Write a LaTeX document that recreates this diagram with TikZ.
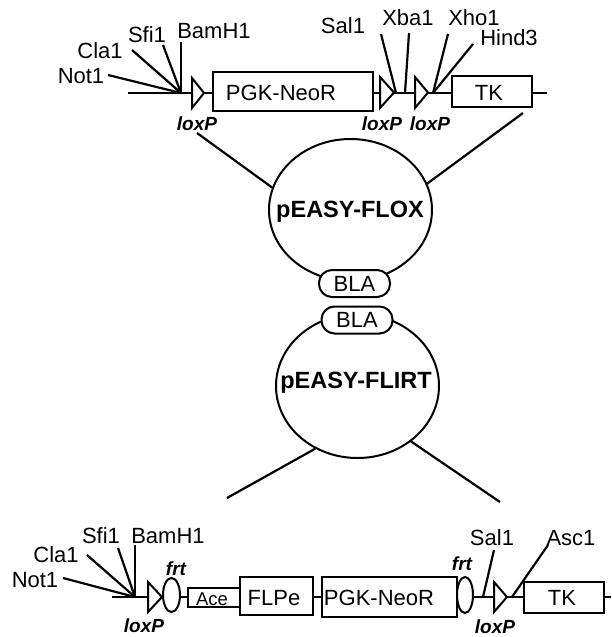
\documentclass[tikz,border=0pt]{standalone}
\usepackage{fontspec}
\setmainfont{Liberation Sans}
\usetikzlibrary{shapes.geometric}
\begin{document}
\begin{tikzpicture}[x=1pt,y=-1pt,
  wire/.style={line width=2.2pt},
  lbl/.style={font=\fontsize{22}{22}\selectfont,inner sep=0pt,anchor=base},
  small/.style={font=\fontsize{18.5}{18.5}\selectfont,inner sep=0pt,anchor=base},
  title/.style={font=\fontsize{23.5}{23.5}\selectfont\bfseries,inner sep=0pt,anchor=base},
  site/.style={font=\fontsize{19}{19}\selectfont\bfseries\itshape,inner sep=0pt,anchor=base},
  box/.style={draw,fill=white,line width=2pt,inner sep=0pt,rectangle},
  tri/.style={draw,fill=white,line width=2pt,line join=miter},
  ell/.style={draw,ellipse,line width=2pt,inner sep=0pt},
  frt/.style={draw,fill=white,ellipse,line width=2pt,inner sep=0pt},
  bla/.style={draw,fill=white,line width=2pt,rounded corners=13pt,inner sep=0pt,
    minimum width=71pt,minimum height=27pt,font=\fontsize{22}{22}\selectfont}
]
\useasboundingbox (0,0) rectangle (611,637);

% ---------------- top construct ----------------
\coordinate (b1s) at (128,93);
\coordinate (b1e) at (547,93);
\coordinate (j1) at (181,93);
\coordinate (j2) at (396,93);
\coordinate (j3) at (405,93);
\coordinate (j4) at (433,93);
\draw[wire] (b1s) -- (b1e);

\node[box,minimum width=160pt,minimum height=39pt] (pgk1) at (293,91.5) {};
\node[lbl] (pgk1t) at (281,100) {PGK-NeoR};
\node[box,minimum width=80pt,minimum height=31pt] (tk1) at (492,91.5) {};
\node[lbl] (tk1t) at (489,100) {TK};

\coordinate (t1a) at (192,78); \coordinate (t1b) at (192,108); \coordinate (t1c) at (204,93);
\draw[tri] (t1a) -- (t1c) -- (t1b) -- cycle;
\coordinate (t2a) at (380,77); \coordinate (t2b) at (380,108); \coordinate (t2c) at (394,92.5);
\draw[tri] (t2a) -- (t2c) -- (t2b) -- cycle;
\coordinate (t3a) at (415,77); \coordinate (t3b) at (415,108); \coordinate (t3c) at (428,92.5);
\draw[tri] (t3a) -- (t3c) -- (t3b) -- cycle;

\node[lbl] (not1) at (81,83) {Not1};
\node[lbl] (cla1) at (100,58) {Cla1};
\node[lbl] (sfi1) at (147,42) {Sfi1};
\node[lbl] (bam1) at (214,38) {BamH1};
\node[lbl] (sal1) at (343,33) {Sal1};
\node[lbl] (xba1) at (408,25) {Xba1};
\node[lbl] (xho1) at (474,25) {Xho1};
\node[lbl] (hin1) at (509,45) {Hind3};

\coordinate (not1e) at (108,75);
\coordinate (cla1e) at (132,50);
\coordinate (sfi1e) at (163,45);
\coordinate (bam1e) at (181,42);
\coordinate (sal1e) at (381,34);
\coordinate (xba1e) at (409,33);
\coordinate (xho1e) at (448,34);
\coordinate (hin1e) at (473,44);
\draw[wire] (not1e) -- (j1);
\draw[wire] (cla1e) -- (j1);
\draw[wire] (sfi1e) -- (j1);
\draw[wire] (bam1e) -- (j1);
\draw[wire] (sal1e) -- (j2);
\draw[wire] (xba1e) -- (j3);
\draw[wire] (xho1e) -- (j4);
\draw[wire] (hin1e) -- (j4);

\node[site] (lox1) at (197,130) {loxP};
\node[site] (lox2) at (382,130) {loxP};
\node[site] (lox3) at (430,130) {loxP};

% ---------------- plasmids ----------------
\node[ell,minimum width=163pt,minimum height=142pt] (flox) at (350.5,210) {};
\node[title] (floxt) at (350,217) {pEASY-FLOX};
\node[bla] (bla1) at (354.5,283.5) {BLA};

\node[ell,minimum width=163pt,minimum height=144pt] (flirt) at (357.5,386) {};
\node[title] (flirtt) at (356,388) {pEASY-FLIRT};
\node[bla] (bla2) at (357,320) {BLA};

\coordinate (lc1) at (197,133);
\coordinate (rc1) at (523,113);
\draw[wire] (lc1) -- (flox.164);
\draw[wire] (rc1) -- (flox.19);
\coordinate (lc2) at (227,498);
\coordinate (rc2) at (500,502);
\draw[wire] (flirt.236) -- (lc2);
\draw[wire] (flirt.314) -- (rc2);

% ---------------- bottom construct ----------------
\coordinate (b2s) at (112,597);
\coordinate (b2e) at (611,597);
\coordinate (j5) at (135,597);
\coordinate (j6) at (483,597);
\coordinate (j7) at (512,597);
\draw[wire] (b2s) -- (b2e);

\coordinate (u1a) at (148,582); \coordinate (u1b) at (148,612); \coordinate (u1c) at (162,597);
\draw[tri] (u1a) -- (u1c) -- (u1b) -- cycle;
\node[frt,minimum width=17pt,minimum height=34pt] (frt1) at (171.5,595) {};
\node[box,minimum width=52pt,minimum height=19pt] (ace) at (214,597.5) {};
\node[small] (acet) at (212,605) {Ace};
\node[box,minimum width=73pt,minimum height=38pt] (flpe) at (276.5,596) {};
\node[lbl] (flpet) at (274,605) {FLPe};
\node[box,minimum width=135pt,minimum height=40pt] (pgk2) at (389.5,597) {};
\node[lbl] (pgk2t) at (379,605) {PGK-NeoR};
\node[frt,minimum width=16pt,minimum height=36pt] (frt2) at (465,595) {};
\coordinate (u2a) at (494,582); \coordinate (u2b) at (494,612); \coordinate (u2c) at (507,597);
\draw[tri] (u2a) -- (u2c) -- (u2b) -- cycle;
\node[box,minimum width=80pt,minimum height=31pt] (tk2) at (564,597.5) {};
\node[lbl] (tk2t) at (562,605) {TK};

\node[lbl] (not2) at (35,587) {Not1};
\node[lbl] (cla2) at (56,562) {Cla1};
\node[lbl] (sfi2) at (101,543) {Sfi1};
\node[lbl] (bam2) at (168,543) {BamH1};
\node[lbl] (sal2) at (492,545) {Sal1};
\node[lbl] (asc2) at (571,545) {Asc1};

\coordinate (not2e) at (63,578);
\coordinate (cla2e) at (87,555);
\coordinate (sfi2e) at (118,548);
\coordinate (bam2e) at (135,545);
\coordinate (sal2e) at (494,550);
\coordinate (asc2e) at (548,545);
\draw[wire] (not2e) -- (j5);
\draw[wire] (cla2e) -- (j5);
\draw[wire] (sfi2e) -- (j5);
\draw[wire] (bam2e) -- (j5);
\draw[wire] (sal2e) -- (j6);
\draw[wire] (asc2e) -- (j7);

\node[site] (frt1t) at (176,575) {frt};
\node[site] (frt2t) at (462,570) {frt};
\node[site] (lox4) at (144,632) {loxP};
\node[site] (lox5) at (495,633) {loxP};
\end{tikzpicture}
\end{document}
